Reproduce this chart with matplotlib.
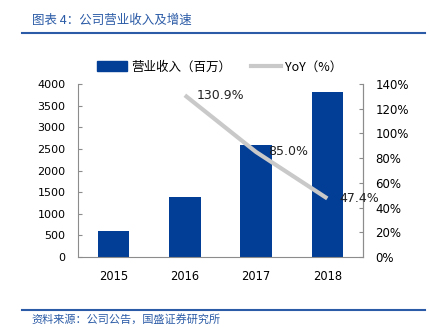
import matplotlib
matplotlib.use("Agg")
import matplotlib.pyplot as plt
from matplotlib.lines import Line2D
from matplotlib.patches import Patch

plt.rcParams['font.family'] = ['DejaVu Sans', 'Noto Sans CJK SC']

years = ["2015", "2016", "2017", "2018"]
revenue = [605, 1397, 2584, 3809]          # 营业收入（百万）
yoy_years = ["2016", "2017", "2018"]
yoy = [130.9, 85.0, 47.4]                  # YoY（%）

BAR_BLUE = "#023E96"
LINE_GRAY = "#C9C9C9"
HEAD_BLUE = "#2B5BA6"
CJK = ['Noto Sans CJK SC', 'DejaVu Sans']

fig = plt.figure(figsize=(4.31, 3.34), dpi=100)
ax = fig.add_axes([0.181, 0.2305, 0.661, 0.518])
ax2 = ax.twinx()

x = list(range(len(years)))
ax.bar(x, revenue, width=0.44, color=BAR_BLUE, zorder=2)
ax.set_xlim(-0.5, len(years) - 0.5)
ax.set_ylim(0, 4000)
ax.set_yticks(range(0, 4001, 500))
ax.set_xticks(x)
ax.set_xticklabels(years)

yx = [years.index(y) for y in yoy_years]
ax2.plot(yx, yoy, color=LINE_GRAY, lw=3, solid_capstyle="butt", zorder=3)
ax2.set_ylim(0, 140)
ax2.set_yticks(range(0, 141, 20))
ax2.set_yticklabels([f"{v}%" for v in range(0, 141, 20)])
for xi, v in zip(yx, yoy):
    ax2.annotate(f"{v:.1f}%", (xi, v), xytext=(8.5, 0), textcoords="offset points",
                 ha="left", va="center", fontsize=9, color="#222222")

for a in (ax, ax2):
    a.spines["top"].set_visible(False)
    for side in ("left", "right", "bottom"):
        a.spines[side].set_color("#8C8C8C")
        a.spines[side].set_linewidth(0.8)
ax.tick_params(axis="y", direction="in", length=3, color="#8C8C8C", labelsize=8, pad=9)
ax2.tick_params(axis="y", direction="in", length=3, color="#8C8C8C", labelsize=8.5, pad=9)
ax.tick_params(axis="x", length=0, labelsize=8.3, pad=9)
ax2.spines["left"].set_visible(False)
ax2.spines["bottom"].set_visible(False)

handles = [Patch(color=BAR_BLUE), Line2D([], [], color=LINE_GRAY, lw=3)]
fig.legend(handles, ["营业收入（百万）", "YoY（%）"], loc="center",
           bbox_to_anchor=(0.51, 0.80), ncol=2, frameon=False,
           prop={"family": CJK, "size": 9}, handlelength=2.4,
           handleheight=0.9, columnspacing=1.6, handletextpad=0.3)

# header / footer rules and captions
fig.add_artist(Line2D([0.051, 0.986], [0.900, 0.900], color=HEAD_BLUE, lw=1.5))
fig.add_artist(Line2D([0.051, 0.986], [0.072, 0.072], color=HEAD_BLUE, lw=1.5))
fig.text(0.074, 0.940, "图表 4：公司营业收入及增速", family=CJK, fontsize=9,
         color=HEAD_BLUE, style="italic", va="center")
fig.text(0.074, 0.045, "资料来源：公司公告，国盛证券研究所", family=CJK, fontsize=8,
         color=HEAD_BLUE, style="italic", va="center")

fig.savefig("out.png", dpi=100)
